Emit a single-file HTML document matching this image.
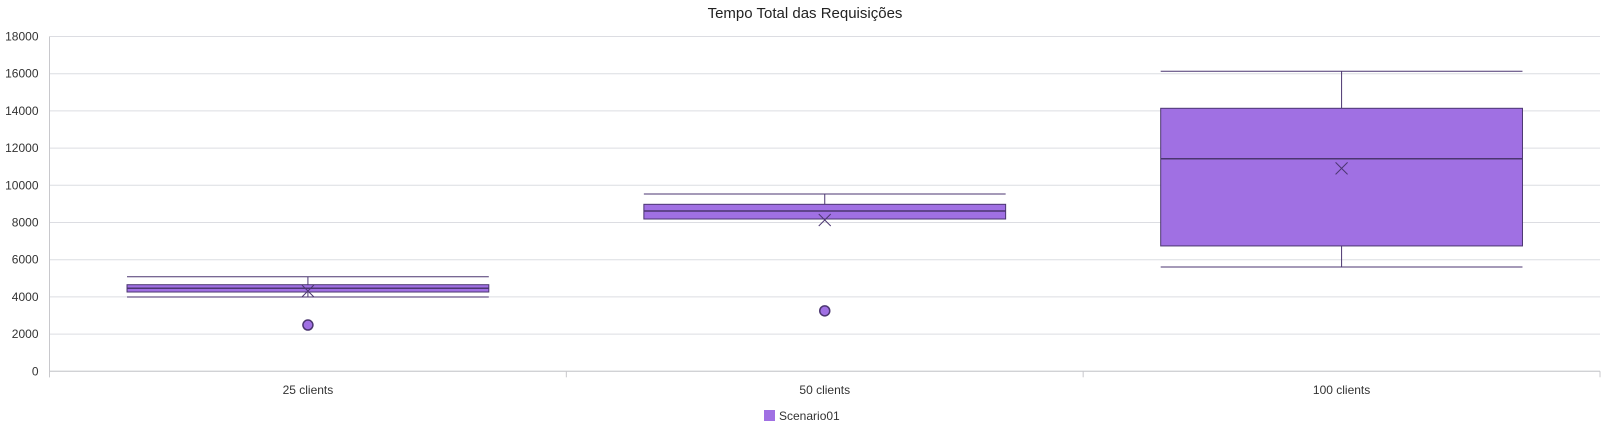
<!DOCTYPE html>
<html><head><meta charset="utf-8"><style>
body{margin:0;background:#fff;}
svg{display:block;font-family:"Liberation Sans",sans-serif;}
</style></head><body>
<svg id="chart" width="1617" height="437">
<text x="805" y="18" font-size="15" text-anchor="middle" fill="#222">Tempo Total das Requisições</text>
<g id="grid"></g><g id="boxes"></g>
<g>
<rect x="764" y="410" width="11" height="11" fill="#a070e3"></rect>
<text x="779" y="420" font-size="12" fill="#333">Scenario01</text>
</g>
</svg>
<script>
const categories=["25 clients","50 clients","100 clients"];
const whiskerMin=[3995,8188,5610];
const q1=[4263,8188,6740];
const median=[4462,8618,11430];
const q3=[4656,8978,14140];
const whiskerMax=[5086,9532,16130];
const means=[4317,8134,10910];
const outlierValues=[[2489],[3250],[]];
const yTicks=[0,2000,4000,6000,8000,10000,12000,14000,16000,18000];
const NS="http://www.w3.org/2000/svg";
const L=49.5,R=1600,Y0=371.3,Y1=36.5,YMAX=18000;
const y=v=>Y0-(v/YMAX)*(Y0-Y1);
const band=(R-L)/categories.length;
const xc=i=>L+band*(i+0.5);
function mk(t,a,p){const e=document.createElementNS(NS,t);for(const k in a)e.setAttribute(k,a[k]);p.appendChild(e);return e;}
const grid=document.getElementById('grid'),boxes=document.getElementById('boxes');
yTicks.forEach(v=>{
 const l=mk('line',{x1:L,x2:R,y1:y(v),y2:y(v),stroke:'#dcdde2','stroke-width':1},grid);
 
 
 const t=mk('text',{x:L-11,y:y(v)+4,'font-size':12,'text-anchor':'end',fill:'#333'},grid);
 t.textContent=v;
 
 
});
const ax=mk('line',{x1:L,x2:L,y1:Y1,y2:Y0+6,stroke:'#c8c8cc'},grid);


const bx=mk('line',{x1:L,x2:R,y1:Y0,y2:Y0,stroke:'#c8c8cc'},grid);


for(let i=0;i<=categories.length;i++){
 const tk=mk('line',{x1:L+band*i,x2:L+band*i,y1:Y0,y2:Y0+6,stroke:'#c8c8cc'},grid);
 
 
}
const S='#4b3670',F='#a070e3';
categories.forEach((c,i)=>{
 const cx=xc(i),w=band*0.7,x0=cx-w/2;
 const g=mk('g',{},boxes);
 
 
 mk('line',{x1:x0,x2:x0+w,y1:y(whiskerMax[i]),y2:y(whiskerMax[i]),stroke:S},g);
 mk('line',{x1:x0,x2:x0+w,y1:y(whiskerMin[i]),y2:y(whiskerMin[i]),stroke:S},g);
 mk('line',{x1:cx,x2:cx,y1:y(whiskerMax[i]),y2:y(q3[i]),stroke:S},g);
 mk('line',{x1:cx,x2:cx,y1:y(q1[i]),y2:y(whiskerMin[i]),stroke:S},g);
 mk('rect',{x:x0,y:y(q3[i]),width:w,height:Math.max(1,y(q1[i])-y(q3[i])),fill:F,stroke:S},g);
 mk('line',{x1:x0,x2:x0+w,y1:y(median[i]),y2:y(median[i]),stroke:S,'stroke-width':1.5},g);
 const my=y(means[i]);
 mk('path',{d:`M${cx-6},${my-6}L${cx+6},${my+6}M${cx+6},${my-6}L${cx-6},${my+6}`,stroke:S,fill:'none'},g);
 outlierValues[i].forEach(v=>{
  const o=mk('circle',{cx:cx,cy:y(v),r:5,fill:F,stroke:S,'stroke-width':1.5},g);
  
  
 });
 const t=mk('text',{x:cx,y:394,'font-size':12,'text-anchor':'middle',fill:'#333'},grid);
 t.textContent=c;
 
 
});
</script>
</body></html>
